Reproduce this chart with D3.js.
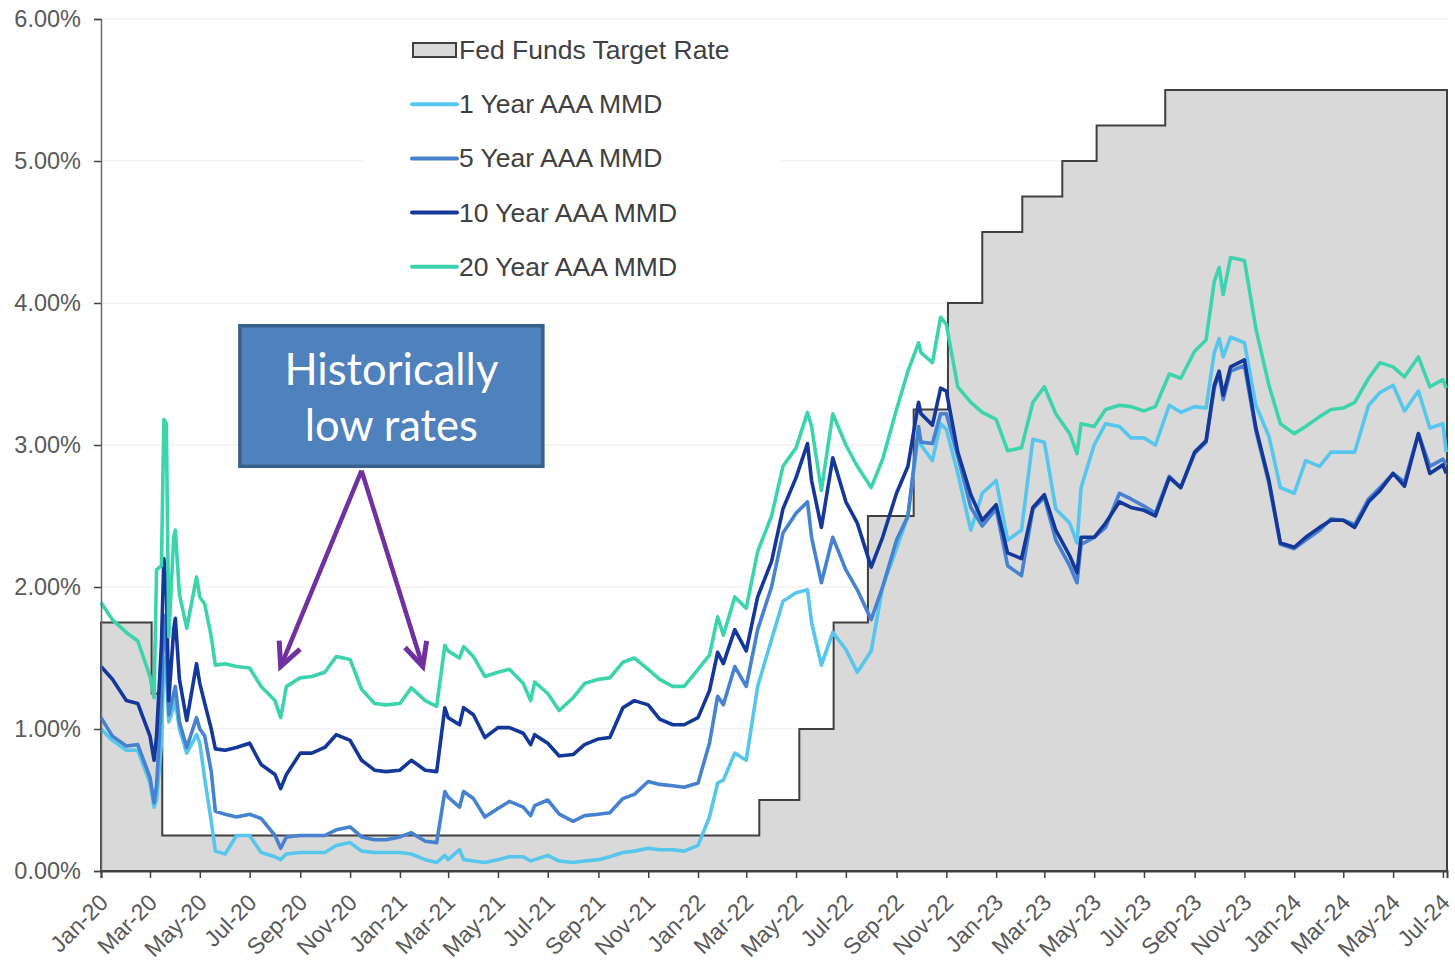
<!DOCTYPE html>
<html>
<head>
<meta charset="utf-8">
<script src="https://cdn.jsdelivr.net/npm/d3@7"></script>
<style>
  body { margin: 0; background: #fff; }
  text { font-family: "Liberation Sans", Arial, sans-serif; }
</style>
</head>
<body>
<script>
var w = 1455;
var h = 963;

// observation dates (shared by the four MMD series)
var dates = [
  "2020-01-01","2020-01-15","2020-02-01","2020-02-15","2020-03-01","2020-03-06","2020-03-09","2020-03-15","2020-03-18","2020-03-21",
  "2020-03-24","2020-03-30","2020-04-01","2020-04-06","2020-04-15","2020-04-27","2020-05-01","2020-05-07","2020-05-15","2020-05-20",
  "2020-06-01","2020-06-15","2020-07-01","2020-07-15","2020-08-01","2020-08-08","2020-08-15","2020-09-01","2020-09-15","2020-10-01",
  "2020-10-15","2020-11-01","2020-11-15","2020-12-01","2020-12-15",
  "2021-01-01","2021-01-15","2021-02-01","2021-02-15","2021-02-25","2021-03-01","2021-03-15","2021-03-20","2021-04-01","2021-04-15",
  "2021-05-01","2021-05-15","2021-06-01","2021-06-10","2021-06-15","2021-07-01","2021-07-15","2021-08-01","2021-08-15","2021-09-01",
  "2021-09-15","2021-10-01","2021-10-15","2021-11-01","2021-11-15","2021-12-01","2021-12-15",
  "2022-01-01","2022-01-15","2022-01-25","2022-02-01","2022-02-15","2022-03-01","2022-03-15","2022-04-01","2022-04-15","2022-05-01",
  "2022-05-15","2022-05-20","2022-06-01","2022-06-15","2022-07-01","2022-07-15","2022-08-01","2022-08-15","2022-09-01","2022-09-15",
  "2022-09-28","2022-10-01","2022-10-15","2022-10-25","2022-11-01","2022-11-15","2022-12-01","2022-12-15",
  "2023-01-01","2023-01-15","2023-02-01","2023-02-15","2023-03-01","2023-03-15","2023-04-01","2023-04-10","2023-04-15","2023-05-01",
  "2023-05-15","2023-06-01","2023-06-15","2023-07-01","2023-07-15","2023-08-01","2023-08-15","2023-09-01","2023-09-15","2023-09-25",
  "2023-10-01","2023-10-06","2023-10-15","2023-11-01","2023-11-15","2023-12-01","2023-12-15",
  "2024-01-01","2024-01-15","2024-02-01","2024-02-15","2024-03-01","2024-03-15","2024-04-01","2024-04-15","2024-05-01","2024-05-15",
  "2024-06-01","2024-06-15","2024-07-01","2024-07-05"
];

var oneYear = [
  1.00,0.92,0.85,0.85,0.62,0.45,0.50,0.90,1.50,1.40,1.05,1.15,1.20,1.00,0.83,0.96,0.90,0.65,0.35,0.14,
  0.12,0.25,0.25,0.13,0.10,0.08,0.12,0.13,0.13,0.13,0.18,0.20,0.14,0.13,0.13,
  0.13,0.12,0.08,0.06,0.11,0.08,0.15,0.08,0.07,0.06,0.08,0.10,0.10,0.07,0.08,0.11,0.07,0.06,0.07,0.08,
  0.10,0.13,0.14,0.16,0.15,0.15,0.14,
  0.18,0.38,0.62,0.64,0.83,0.78,1.30,1.63,1.90,1.96,1.98,1.75,1.45,1.68,1.56,1.40,1.55,2.00,2.27,2.50,
  3.08,3.00,2.89,3.15,3.11,2.80,2.40,2.66,
  2.75,2.33,2.40,3.04,3.02,2.55,2.45,2.31,2.70,3.00,3.15,3.13,3.05,3.05,3.00,3.28,3.23,3.27,3.26,3.65,
  3.75,3.62,3.76,3.72,3.28,3.06,2.70,
  2.66,2.89,2.85,2.95,2.95,2.95,3.28,3.37,3.42,3.24,3.38,3.12,3.15,2.95
];

var fiveYear = [
  1.08,0.95,0.88,0.89,0.66,0.48,0.60,1.20,1.80,1.60,1.10,1.25,1.30,1.05,0.87,1.08,1.00,0.95,0.70,0.42,
  0.40,0.38,0.40,0.37,0.25,0.16,0.24,0.25,0.25,0.25,0.29,0.31,0.24,0.22,0.22,
  0.24,0.27,0.21,0.20,0.56,0.52,0.45,0.56,0.51,0.38,0.44,0.49,0.45,0.39,0.46,0.50,0.40,0.35,0.39,0.40,
  0.41,0.51,0.54,0.63,0.61,0.60,0.59,
  0.62,0.90,1.23,1.17,1.44,1.30,1.70,2.00,2.38,2.52,2.60,2.35,2.03,2.35,2.12,1.98,1.77,2.00,2.33,2.50,
  3.13,3.02,3.01,3.22,3.22,2.92,2.56,2.43,
  2.55,2.15,2.08,2.55,2.63,2.33,2.15,2.03,2.30,2.35,2.42,2.66,2.62,2.57,2.52,2.78,2.70,2.94,3.02,3.40,
  3.50,3.32,3.52,3.56,3.10,2.73,2.30,
  2.27,2.33,2.40,2.48,2.47,2.44,2.62,2.70,2.80,2.74,3.08,2.85,2.90,2.86
];

var tenYear = [
  1.44,1.35,1.20,1.18,0.95,0.78,0.95,1.60,2.20,2.00,1.20,1.70,1.78,1.35,1.06,1.46,1.32,1.18,1.00,0.86,
  0.85,0.87,0.90,0.75,0.68,0.58,0.68,0.83,0.83,0.87,0.96,0.92,0.78,0.71,0.70,
  0.71,0.78,0.71,0.70,1.15,1.08,1.03,1.15,1.10,0.94,1.01,1.01,0.97,0.89,0.96,0.90,0.81,0.82,0.89,0.93,
  0.94,1.15,1.20,1.17,1.07,1.03,1.03,
  1.08,1.27,1.54,1.46,1.70,1.55,1.93,2.18,2.55,2.77,3.01,2.75,2.42,2.91,2.60,2.45,2.14,2.35,2.66,2.85,
  3.30,3.22,3.14,3.40,3.38,2.95,2.65,2.47,
  2.58,2.24,2.20,2.56,2.65,2.40,2.22,2.10,2.35,2.35,2.45,2.60,2.56,2.54,2.50,2.77,2.70,2.95,3.03,3.42,
  3.52,3.35,3.55,3.60,3.12,2.75,2.31,
  2.28,2.35,2.42,2.47,2.47,2.42,2.60,2.68,2.80,2.71,3.08,2.80,2.86,2.80
];

var twentyYear = [
  1.89,1.77,1.68,1.62,1.37,1.22,2.12,2.15,3.18,3.15,1.65,2.35,2.40,1.95,1.71,2.07,1.93,1.88,1.65,1.45,
  1.46,1.44,1.43,1.30,1.20,1.08,1.30,1.36,1.37,1.40,1.51,1.49,1.28,1.18,1.17,
  1.18,1.29,1.20,1.16,1.59,1.55,1.50,1.58,1.51,1.37,1.40,1.42,1.32,1.20,1.33,1.25,1.13,1.22,1.32,1.35,
  1.36,1.47,1.50,1.42,1.35,1.30,1.30,
  1.42,1.52,1.79,1.66,1.93,1.85,2.25,2.50,2.85,2.98,3.23,3.13,2.68,3.22,3.00,2.85,2.70,2.90,3.25,3.52,
  3.72,3.65,3.58,3.90,3.85,3.41,3.30,3.23,
  3.18,2.96,2.98,3.30,3.41,3.22,3.08,2.94,3.15,3.13,3.25,3.28,3.27,3.24,3.27,3.50,3.47,3.66,3.74,4.15,
  4.25,4.06,4.32,4.30,3.82,3.42,3.15,
  3.08,3.13,3.20,3.25,3.26,3.30,3.47,3.58,3.55,3.48,3.62,3.41,3.46,3.40
];

// Fed Funds target (upper bound), stepped
var fedDates = ["2020-01-01","2020-03-03","2020-03-16","2022-03-17","2022-05-05","2022-06-16","2022-07-28",
                "2022-09-22","2022-11-03","2022-12-15","2023-02-02","2023-03-23","2023-05-04","2023-07-27","2024-07-06"];
var fedRate = [1.75,1.25,0.25,0.50,1.00,1.75,2.50,3.25,4.00,4.50,4.75,5.00,5.25,5.50,5.50];

var yTicks = [0,1,2,3,4,5,6];
var seriesNames = ["1 Year AAA MMD","5 Year AAA MMD","10 Year AAA MMD","20 Year AAA MMD"];
var seriesColors = ["#56c6ec","#4682cf","#14379a","#3dd4ad"];
var seriesValues = [oneYear, fiveYear, tenYear, twentyYear];

var parse = d3.utcParse("%Y-%m-%d");

var x = d3.scaleUtc()
          .domain([parse("2020-01-01"), parse("2024-07-06")])
          .range([101, 1447]);
var y = d3.scaleLinear()
          .domain([0, 6])
          .range([871, 19]);

var svg = d3.select("body")
            .append("svg")
            .attr("width", w)
            .attr("height", h);

// gridlines
svg.selectAll("line.grid")
   .data(yTicks.slice(1))
   .enter()
   .append("line")
   .attr("class", "grid")
   .attr("x1", 101).attr("x2", 1447)
   .attr("y1", function(d){return y(d);})
   .attr("y2", function(d){return y(d);})
   .attr("stroke", "#ebebeb")
   .attr("stroke-width", 1);

// fed funds area
var fed = fedDates.map(function(d, i){return {date: parse(d), v: fedRate[i]};});
var area = d3.area()
             .curve(d3.curveStepAfter)
             .x(function(d){return x(d.date);})
             .y0(y(0))
             .y1(function(d){return y(d.v);});
svg.append("path")
   .datum(fed)
   .attr("d", area)
   .attr("fill", "#d9d9d9")
   .attr("stroke", "#404040")
   .attr("stroke-width", 2);

// MMD lines
var line = d3.line()
             .x(function(d){return x(d.date);})
             .y(function(d){return y(d.v);});
seriesValues.forEach(function(vals, k){
  var pts = dates.map(function(d, i){return {date: parse(d), v: vals[i]};});
  svg.append("path")
     .datum(pts)
     .attr("d", line)
     .attr("fill", "none")
     .attr("stroke", seriesColors[k])
     .attr("stroke-width", 3.6)
     .attr("stroke-linejoin", "round");
});

// y axis
var yAxis = d3.axisLeft(y)
              .tickValues(yTicks)
              .tickSize(7)
              .tickPadding(13)
              .tickFormat(function(d){return d3.format(".2f")(d) + "%";});
var gy = svg.append("g")
            .attr("transform", "translate(101,0)")
            .call(yAxis);
gy.select(".domain").attr("stroke", "#6b6b6b").attr("stroke-width", 1.5);
gy.selectAll(".tick line").attr("stroke", "#404040").attr("stroke-width", 1.5);
gy.selectAll("text")
  .attr("font-size", "23.5px")
  .attr("fill", "#595959")
  .style("font-family", "'Liberation Sans', Arial, sans-serif");

// x axis
var xAxis = d3.axisBottom(x)
              .ticks(d3.utcMonth.every(2))
              .tickSize(7)
              .tickFormat(d3.utcFormat("%b-%y"));
var gx = svg.append("g")
            .attr("transform", "translate(0,871)")
            .call(xAxis);
gx.select(".domain").attr("stroke", "#404040").attr("stroke-width", 2);
gx.selectAll(".tick line").attr("stroke", "#404040").attr("stroke-width", 1.5);
gx.selectAll("text")
  .attr("font-size", "23px")
  .attr("fill", "#595959")
  .attr("text-anchor", "end")
  .attr("y", 0).attr("dy", 0)
  .attr("transform", "translate(8,33) rotate(-45)")
  .style("font-family", "'Liberation Sans', Arial, sans-serif");

// legend
var legendRows = ["Fed Funds Target Rate"].concat(seriesNames);
svg.append("rect")
   .attr("x", 364).attr("y", 27)
   .attr("width", 416).attr("height", 266)
   .attr("fill", "#ffffff");
var lg = svg.selectAll("g.leg")
            .data(legendRows)
            .enter()
            .append("g")
            .attr("class", "leg")
            .attr("transform", function(d, i){return "translate(412," + (50 + i * 54.2) + ")";});
lg.each(function(d, i){
  var g = d3.select(this);
  if (i === 0) {
    g.append("rect").attr("x", 1).attr("y", -7).attr("width", 43).attr("height", 14)
     .attr("fill", "#d9d9d9").attr("stroke", "#404040").attr("stroke-width", 2);
  } else {
    g.append("line").attr("x1", 0).attr("x2", 45).attr("y1", 0).attr("y2", 0)
     .attr("stroke", seriesColors[i - 1]).attr("stroke-width", 4).attr("stroke-linecap", "round");
  }
  g.append("text").attr("x", 47).attr("y", 9)
   .attr("font-size", "26.5px").attr("fill", "#404040").text(d);
});

// annotation box
var note = {x0: "2020-06-19", x1: "2021-06-25", top: 3.84, bottom: 2.85,
            from: ["2020-11-15", 2.82], tips: [["2020-08-08", 1.44], ["2021-01-29", 1.44]],
            lines: ["Historically", "low rates"]};
var bx0 = x(parse(note.x0)), bx1 = x(parse(note.x1));
var by0 = y(note.top), by1 = y(note.bottom);
svg.append("rect")
   .attr("x", bx0).attr("y", by0)
   .attr("width", bx1 - bx0).attr("height", by1 - by0)
   .attr("fill", "#4f81bd")
   .attr("stroke", "#3a5f8c")
   .attr("stroke-width", 3.5);
svg.selectAll("text.note")
   .data(note.lines)
   .enter()
   .append("text")
   .attr("class", "note")
   .attr("x", (bx0 + bx1) / 2)
   .attr("y", function(d, i){return by0 + 59 + i * 56;})
   .attr("text-anchor", "middle")
   .attr("fill", "#ffffff")
   .attr("font-size", "43.5px")
   .style("font-family", "Lato, 'Open Sans', sans-serif")
   .text(function(d){return d;});

// arrows
var sx = x(parse(note.from[0])), sy = y(note.from[1]);
note.tips.forEach(function(t){
  var tx = x(parse(t[0])), ty = y(t[1]);
  var ang = Math.atan2(ty - sy, tx - sx);
  var len = 26, spread = 0.45;
  svg.append("line")
     .attr("x1", sx).attr("y1", sy).attr("x2", tx).attr("y2", ty)
     .attr("stroke", "#7030a0").attr("stroke-width", 4.5);
  var p1 = [tx - len * Math.cos(ang - spread), ty - len * Math.sin(ang - spread)];
  var p2 = [tx - len * Math.cos(ang + spread), ty - len * Math.sin(ang + spread)];
  svg.append("path")
     .attr("d", "M" + p1 + "L" + [tx, ty] + "L" + p2)
     .attr("fill", "none")
     .attr("stroke", "#7030a0")
     .attr("stroke-width", 5)
     .attr("stroke-linejoin", "miter")
     .attr("stroke-miterlimit", 10);
});
</script>
</body>
</html>
